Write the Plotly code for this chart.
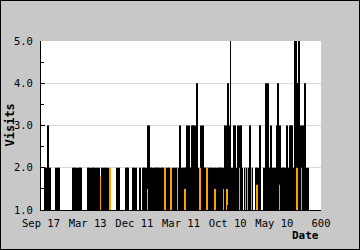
import plotly.graph_objects as go

# Day index (x) and visit counts for the main (black) series
black_days = [9, 11, 14, 16, 18, 20, 31, 33, 37, 39, 69, 71, 73, 76, 78, 82, 84, 86,
              101, 103, 106, 108, 112, 114, 118, 121, 125, 131, 133, 136, 138, 140, 144, 163, 166, 168, 181, 183, 185, 187, 196, 198,
              200, 204, 211, 213, 219, 221, 223, 226, 228, 230, 232, 234, 236, 238, 241, 245, 247, 249, 251, 253, 256, 258, 260, 262, 268, 271, 273, 275, 283, 286, 290, 294, 298,
              301, 305, 307, 309, 311, 313, 316, 318, 320, 322, 324, 326, 328, 331, 333, 335, 337, 343, 346, 348, 350, 352, 354, 358, 361, 363, 365, 367, 371, 373, 376, 380, 382, 384, 386, 388, 391, 393, 395, 397, 399, 401, 403, 406,
              408, 412, 414, 416, 418, 421, 423, 427, 429, 431, 436, 440, 446, 448, 453, 461, 463, 466, 468, 470, 477, 479, 481, 483, 486, 488, 490, 492, 494, 496, 498, 501,
              503, 505, 507, 509, 511, 513, 516, 518, 520, 522, 524, 526, 528, 531, 533, 535, 537, 539, 541, 543, 546, 548, 550, 552, 554, 556, 558, 561, 563, 565, 567, 569, 571, 573]
black_visits = [2, 2, 3, 3, 2, 2, 2, 2, 2, 2, 2, 2, 2, 2, 2, 2, 2, 2,
                2, 2, 2, 2, 2, 2, 2, 2, 2, 2, 2, 2, 2, 2, 2, 2, 2, 2, 2, 2, 2, 2, 2, 2,
                2, 2, 2, 2, 2, 2, 2, 2, 2, 3, 3, 2, 2, 2, 2, 2, 2, 2, 2, 2, 2, 2, 2, 2, 2, 2, 2, 2, 2, 2, 2, 2, 3,
                2, 2, 2, 2, 2, 3, 3, 3, 2, 2, 3, 3, 3, 3, 2, 4, 2, 3, 3, 3, 2, 2, 2, 2, 2, 2, 2, 2, 2, 2, 2, 2, 2, 2, 2, 2, 2, 3, 3, 2, 3, 4, 3, 5,
                2, 2, 3, 3, 2, 3, 3, 3, 3, 2, 2, 2, 2, 3, 2, 2, 2, 2, 3, 3, 2, 2, 4, 4, 4, 2, 2, 3, 3, 2, 2, 2,
                2, 3, 4, 4, 3, 3, 2, 2, 2, 2, 2, 3, 3, 2, 3, 3, 3, 3, 2, 5, 5, 4, 4, 5, 5, 3, 3, 3, 3, 4, 3, 2, 2, 2]

# Secondary (orange) series
orange_days = [127, 148, 228, 266, 279, 292, 309, 341, 356, 373, 391, 399, 425, 438, 442, 451, 463, 511, 548, 550, 558]
orange_visits = [1.8, 2, 1.5, 2, 2, 2, 1.5, 2, 2, 1.5, 1.5, 1.5, 2, 2, 2, 2, 1.6, 1.6, 2, 2, 2]

tick_vals = [0, 100, 200, 300, 400, 500, 600]
tick_text = ["Sep 17", "Mar 13", "Dec 11", "Mar 11", "Oct 10", "May 10", "600"]

FONT = "DejaVu Sans Mono"

fig = go.Figure()
fig.add_trace(go.Bar(x=black_days, y=black_visits, width=1.5,
                     marker=dict(color="#000000", line=dict(width=0))))
fig.add_trace(go.Bar(x=orange_days, y=orange_visits, width=1.1,
                     marker=dict(color="#ffa000", line=dict(width=0))))

L, R, T, B = 41, 39, 41, 40
PW, PH = 360 - L - R, 250 - T - B

fig.update_layout(
    width=360, height=250,
    margin=dict(l=L, r=R, t=T, b=B, pad=0),
    paper_bgcolor="#c8c8c8", plot_bgcolor="white",
    showlegend=False, barmode="overlay",
    font=dict(family=FONT, size=10.5, color="black"),
    xaxis=dict(range=[0, 600], tickvals=tick_vals, ticktext=tick_text,
               ticks="inside", ticklen=5, tickcolor="black", tickwidth=1,
               ticklabelstandoff=3,
               showline=True, linecolor="black", linewidth=1,
               showgrid=False, zeroline=False),
    yaxis=dict(range=[1, 5], dtick=1, tickformat=".1f",
               ticks="inside", ticklen=4, tickcolor="black", tickwidth=1,
               ticklabelstandoff=5,
               minor=dict(dtick=0.5, ticks="inside", ticklen=3, tickcolor="black", showgrid=False),
               showline=True, linecolor="black", linewidth=1,
               showgrid=True, gridcolor="#d9d9d9", gridwidth=1, zeroline=False),
    annotations=[
        dict(text="<b>Visits</b>", xref="paper", yref="paper",
             x=(9 - L) / PW, y=0.5, textangle=-90, showarrow=False,
             xanchor="center", yanchor="middle", font=dict(family=FONT, size=12)),
        dict(text="<b>Date</b>", xref="paper", yref="paper",
             x=(305 - L) / PW, y=-(236 - (T + PH)) / PH, showarrow=False,
             xanchor="center", yanchor="middle", font=dict(family=FONT, size=11)),
    ],
    shapes=[dict(type="rect", xref="paper", yref="paper",
                 x0=-L / PW, x1=1 + R / PW, y0=-B / PH, y1=1 + T / PH,
                 line=dict(color="black", width=2), fillcolor="rgba(0,0,0,0)", layer="above")],
)

fig.write_html("out.html")
